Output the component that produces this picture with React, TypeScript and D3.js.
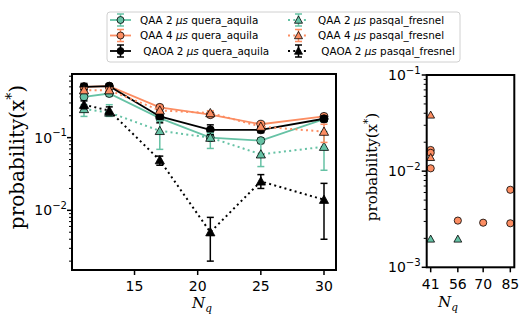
import * as d3 from "d3";
import React, { useEffect, useRef } from "react";

// qubit counts of the left panel
const nq = [11, 13, 17, 21, 25, 30];

// QAA 2 us quera_aquila
const qaa2Quera = [0.364, 0.405, 0.186, 0.1, 0.091, 0.18];
const qaa2QueraLo = [0.33, 0.37, 0.17, 0.092, 0.083, 0.165];
const qaa2QueraHi = [0.4, 0.44, 0.2, 0.108, 0.099, 0.195];
// QAA 4 us quera_aquila
const qaa4Quera = [0.5, 0.51, 0.261, 0.207, 0.153, 0.196];
const qaa4QueraLo = [0.47, 0.48, 0.245, 0.195, 0.143, 0.185];
const qaa4QueraHi = [0.53, 0.54, 0.277, 0.22, 0.163, 0.207];
// QAOA 2 us quera_aquila
const qaoaQuera = [0.5, 0.51, 0.196, 0.128, 0.128, 0.182];
const qaoaQueraLo = [0.45, 0.47, 0.16, 0.11, 0.117, 0.167];
const qaoaQueraHi = [0.557, 0.55, 0.23, 0.15, 0.14, 0.197];
// QAA 2 us pasqal_fresnel
const qaa2Pasqal = [0.248, 0.222, 0.124, 0.1, 0.059, 0.075];
const qaa2PasqalLo = [0.196, 0.196, 0.069, 0.071, 0.04, 0.0356];
const qaa2PasqalHi = [0.284, 0.284, 0.17, 0.115, 0.09, 0.121];
// QAA 4 us pasqal_fresnel
const qaa4Pasqal = [0.45, 0.45, 0.237, 0.218, 0.142, 0.121];
const qaa4PasqalLo = [0.42, 0.42, 0.22, 0.2, 0.132, 0.086];
const qaa4PasqalHi = [0.48, 0.48, 0.255, 0.235, 0.152, 0.153];
// QAOA 2 us pasqal_fresnel
const qaoaPasqal = [0.284, 0.235, 0.049, 0.005, 0.025, 0.014];
const qaoaPasqalLo = [0.25, 0.205, 0.0417, 0.002, 0.02, 0.004];
const qaoaPasqalHi = [0.32, 0.265, 0.0557, 0.008, 0.031, 0.0235];

// right panel (larger instances)
const rightQaa4QueraN = [41, 41, 41, 56, 70, 85, 85];
const rightQaa4QueraP = [0.0166, 0.0155, 0.0107, 0.00306, 0.00291, 0.00287, 0.0064];
const rightQaa4PasqalN = [41, 41];
const rightQaa4PasqalP = [0.0384, 0.0139];
const rightQaa2PasqalN = [41, 56];
const rightQaa2PasqalP = [0.00197, 0.00197];

const leftXTicks = [15, 20, 25, 30];
const rightXTicks = [41, 56, 70, 85];

const TEAL = "#66c2a5";
const ORANGE = "#fc8d62";

const series = [
  { label: "QAA 2 ", tail: " quera_aquila", y: qaa2Quera, lo: qaa2QueraLo, hi: qaa2QueraHi, color: TEAL, marker: "o", dotted: false },
  { label: "QAA 4 ", tail: " quera_aquila", y: qaa4Quera, lo: qaa4QueraLo, hi: qaa4QueraHi, color: ORANGE, marker: "o", dotted: false },
  { label: " QAOA 2 ", tail: " quera_aquila", y: qaoaQuera, lo: qaoaQueraLo, hi: qaoaQueraHi, color: "#000", marker: "o", dotted: false },
  { label: "QAA 2 ", tail: " pasqal_fresnel", y: qaa2Pasqal, lo: qaa2PasqalLo, hi: qaa2PasqalHi, color: TEAL, marker: "^", dotted: true },
  { label: "QAA 4 ", tail: " pasqal_fresnel", y: qaa4Pasqal, lo: qaa4PasqalLo, hi: qaa4PasqalHi, color: ORANGE, marker: "^", dotted: true },
  { label: " QAOA 2 ", tail: " pasqal_fresnel", y: qaoaPasqal, lo: qaoaPasqalLo, hi: qaoaPasqalHi, color: "#000", marker: "^", dotted: true },
];

const SANS = "DejaVu Sans, sans-serif";
const SERIF = "DejaVu Serif, serif";

export default function App() {
  const svgRef = useRef(null);

  useEffect(() => {
    const svg = d3.select(svgRef.current);
    svg.selectAll("*").remove();

    const drawMarker = (g, x, y, marker, fill, r) => {
      if (marker === "o") {
        g.append("circle").attr("cx", x).attr("cy", y).attr("r", r)
          .attr("fill", fill).attr("stroke", "#000").attr("stroke-width", 0.8);
      } else {
        const s = r * 1.15;
        g.append("path")
          .attr("d", `M${x},${y - s}L${x + s},${y + s * 0.8}L${x - s},${y + s * 0.8}Z`)
          .attr("fill", fill).attr("stroke", "#000").attr("stroke-width", 0.8);
      }
    };

    const minorTicks = (lo, hi) => {
      const out = [];
      for (let e = -4; e <= 0; e++) {
        for (let m = 2; m <= 9; m++) {
          const v = m * Math.pow(10, e);
          if (v > lo && v < hi) out.push(v);
        }
      }
      return out;
    };

    const yTickLabel = (g, x, y, exp, size) => {
      const t = g.append("text").attr("x", x).attr("y", y + size * 0.36)
        .attr("text-anchor", "end").attr("font-family", SANS).attr("font-size", size);
      t.append("tspan").text("10");
      t.append("tspan").attr("dy", -size * 0.45).attr("font-size", size * 0.72).text("\u2212" + exp);
    };

    const yLabel = (g, x, y, size) => {
      const t = g.append("text").attr("transform", `translate(${x},${y}) rotate(-90)`)
        .attr("text-anchor", "middle").attr("font-family", SERIF).attr("font-size", size);
      t.append("tspan").text("probability(x");
      t.append("tspan").attr("dy", -size * 0.38).attr("font-size", size * 0.7).text("*");
      t.append("tspan").attr("dy", size * 0.38).text(")");
    };

    const nLabel = (g, x, y, size) => {
      const t = g.append("text").attr("x", x).attr("y", y).attr("text-anchor", "middle")
        .attr("font-family", SERIF).attr("font-style", "italic").attr("font-size", size);
      t.append("tspan").text("N");
      t.append("tspan").attr("dy", size * 0.25).attr("font-size", size * 0.7).text("q");
    };

    // ---------- LEFT PANEL ----------
    const L = { x0: 72, x1: 336, y0: 74, y1: 270 };
    const xL = d3.scaleLinear().domain([10.05, 30.95]).range([L.x0, L.x1]);
    const yL = d3.scaleLog().domain([0.00151, 0.751]).range([L.y1, L.y0]);

    const gl = svg.append("g");

    series.forEach((s) => {
      const line = d3.line().x((d, i) => xL(nq[i])).y((d) => yL(d));
      gl.append("path").datum(s.y).attr("d", line).attr("fill", "none")
        .attr("stroke", s.color).attr("stroke-width", s.dotted ? 2 : 1.8)
        .attr("stroke-dasharray", s.dotted ? "2,3.3" : null);
      s.y.forEach((v, i) => {
        const x = xL(nq[i]);
        gl.append("line").attr("x1", x).attr("x2", x).attr("y1", yL(s.lo[i])).attr("y2", yL(s.hi[i]))
          .attr("stroke", s.color).attr("stroke-width", 1.5);
        [s.lo[i], s.hi[i]].forEach((c) => {
          gl.append("line").attr("x1", x - 3.5).attr("x2", x + 3.5).attr("y1", yL(c)).attr("y2", yL(c))
            .attr("stroke", s.color).attr("stroke-width", 1.5);
        });
      });
      s.y.forEach((v, i) => drawMarker(gl, xL(nq[i]), yL(v), s.marker, s.color, 4));
    });

    // frame
    gl.append("rect").attr("x", L.x0).attr("y", L.y0).attr("width", L.x1 - L.x0).attr("height", L.y1 - L.y0)
      .attr("fill", "none").attr("stroke", "#000").attr("stroke-width", 2);

    leftXTicks.forEach((t) => {
      gl.append("line").attr("x1", xL(t)).attr("x2", xL(t)).attr("y1", L.y1).attr("y2", L.y1 + 5)
        .attr("stroke", "#000").attr("stroke-width", 1.5);
      gl.append("text").attr("x", xL(t)).attr("y", L.y1 + 21).attr("text-anchor", "middle")
        .attr("font-family", SANS).attr("font-size", 14).text(t);
    });
    [0.1, 0.01].forEach((t, i) => {
      gl.append("line").attr("x1", L.x0 - 5).attr("x2", L.x0).attr("y1", yL(t)).attr("y2", yL(t))
        .attr("stroke", "#000").attr("stroke-width", 1.5);
      yTickLabel(gl, L.x0 - 5, yL(t), i + 1, 14);
    });
    minorTicks(0.00151, 0.751).forEach((t) => {
      gl.append("line").attr("x1", L.x0 - 3).attr("x2", L.x0).attr("y1", yL(t)).attr("y2", yL(t))
        .attr("stroke", "#000").attr("stroke-width", 1);
    });

    yLabel(gl, 24, 157, 20);
    nLabel(gl, 202, 308, 15);

    // ---------- RIGHT PANEL ----------
    const R = { x0: 426.7, x1: 514.3, y0: 75, y1: 267.3 };
    const xR = d3.scaleLinear().domain([38.8, 87.2]).range([R.x0, R.x1]);
    const yR = d3.scaleLog().domain([0.001, 0.1]).range([R.y1, R.y0]);
    const gr = svg.append("g");

    rightQaa4QueraN.forEach((n, i) => drawMarker(gr, xR(n), yR(rightQaa4QueraP[i]), "o", ORANGE, 3.6));
    rightQaa4PasqalN.forEach((n, i) => drawMarker(gr, xR(n), yR(rightQaa4PasqalP[i]), "^", ORANGE, 3.4));
    rightQaa2PasqalN.forEach((n, i) => drawMarker(gr, xR(n), yR(rightQaa2PasqalP[i]), "^", TEAL, 3.4));

    gr.append("rect").attr("x", R.x0).attr("y", R.y0).attr("width", R.x1 - R.x0).attr("height", R.y1 - R.y0)
      .attr("fill", "none").attr("stroke", "#000").attr("stroke-width", 2);

    rightXTicks.forEach((t) => {
      gr.append("line").attr("x1", xR(t)).attr("x2", xR(t)).attr("y1", R.y1).attr("y2", R.y1 + 5)
        .attr("stroke", "#000").attr("stroke-width", 1.5);
      gr.append("text").attr("x", xR(t)).attr("y", R.y1 + 22).attr("text-anchor", "middle")
        .attr("font-family", SANS).attr("font-size", 14).text(t);
    });
    [0.1, 0.01, 0.001].forEach((t, i) => {
      gr.append("line").attr("x1", R.x0 - 5).attr("x2", R.x0).attr("y1", yR(t)).attr("y2", yR(t))
        .attr("stroke", "#000").attr("stroke-width", 1.5);
      yTickLabel(gr, R.x0 - 6, yR(t), i + 1, 14);
    });
    minorTicks(0.001, 0.1).forEach((t) => {
      gr.append("line").attr("x1", R.x0 - 3).attr("x2", R.x0).attr("y1", yR(t)).attr("y2", yR(t))
        .attr("stroke", "#000").attr("stroke-width", 1);
    });

    yLabel(gr, 377, 167, 15);
    nLabel(gr, 448, 307, 15);

    // ---------- LEGEND ----------
    const lg = svg.append("g");
    lg.append("rect").attr("x", 107).attr("y", 12).attr("width", 353).attr("height", 50).attr("rx", 3)
      .attr("fill", "#fff").attr("fill-opacity", 0.8).attr("stroke", "#d0d0d0").attr("stroke-width", 1);
    const rowY = [20, 35.5, 51];
    const colX = [110, 288];
    const textX = [140, 318];
    series.forEach((s, k) => {
      const c = Math.floor(k / 3);
      const r = k % 3;
      const hx = colX[c];
      const hy = rowY[r];
      lg.append("line").attr("x1", hx).attr("x2", hx + 21).attr("y1", hy).attr("y2", hy)
        .attr("stroke", s.color).attr("stroke-width", s.dotted ? 2 : 1.8)
        .attr("stroke-dasharray", s.dotted ? "2,3.3" : null);
      const mx = hx + 10.5;
      lg.append("line").attr("x1", mx).attr("x2", mx).attr("y1", hy - 6).attr("y2", hy + 6)
        .attr("stroke", s.color).attr("stroke-width", 1.5);
      [hy - 6, hy + 6].forEach((cy) => {
        lg.append("line").attr("x1", mx - 3.5).attr("x2", mx + 3.5).attr("y1", cy).attr("y2", cy)
          .attr("stroke", s.color).attr("stroke-width", 1.5);
      });
      drawMarker(lg, mx, hy, s.marker, s.color, 3.5);
      const t = lg.append("text").attr("x", textX[c]).attr("y", hy + 3.8)
        .attr("font-family", SANS).attr("font-size", 10.4)
        .style("white-space", "pre");
      t.append("tspan").text(s.label);
      t.append("tspan").attr("font-style", "italic").text("\u03bcs");
      t.append("tspan").text(s.tail);
    });
  });

  return (
    <svg
      ref={svgRef}
      width={523}
      height={320}
      style={{ position: "absolute", left: 0, top: 0, background: "#fff" }}
    ></svg>
  );
}
